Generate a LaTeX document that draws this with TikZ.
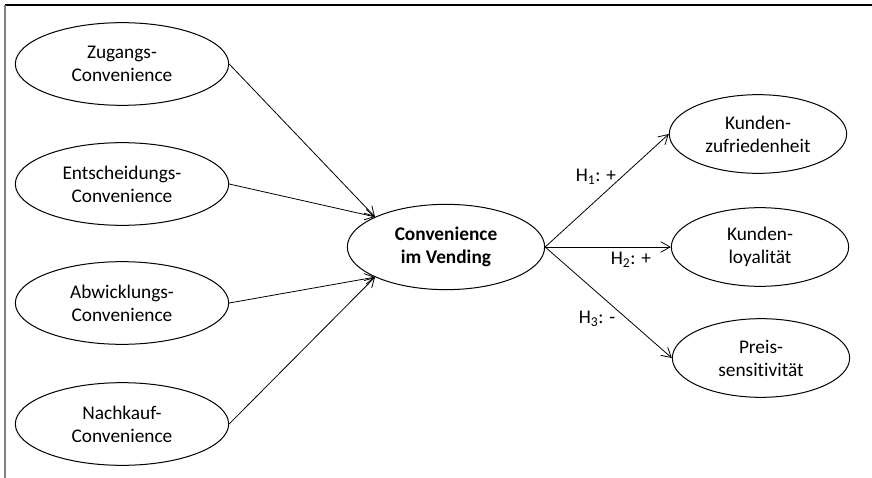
\documentclass[tikz,border=0pt]{standalone}
\usepackage{fontspec}
\setmainfont[Ligatures=NoCommon]{Carlito}
\usetikzlibrary{shapes.geometric,arrows.meta}
\begin{document}
\begin{tikzpicture}[x=0.75pt,y=-0.75pt,
  font=\fontsize{14.5}{17.25}\selectfont,
  konstrukt/.style={ellipse,draw,line width=0.75pt,inner sep=0pt,align=center},
  links/.style={konstrukt,minimum width=160pt,minimum height=62pt},
  mitte/.style={konstrukt,minimum width=148pt,minimum height=64pt,font=\fontsize{14.5}{17.25}\selectfont\bfseries},
  rechts/.style={konstrukt,minimum width=133pt,minimum height=59pt},
  pfeil/.style={-{Straight Barb[length=7pt,width=8pt]},line width=0.6pt}]
  \useasboundingbox (0,0) rectangle (872,478);
  \draw[line width=1.2pt] (5,5) -- (872,5);
  \draw[line width=1.2pt,gray] (5,5) -- (5,478);
  \node[links] (zugang) at (122,64) {Zugangs-\\Convenience};
  \node[links] (entsch) at (122,184) {Entscheidungs-\\Convenience};
  \node[links] (abwick) at (122,303) {Abwicklungs-\\Convenience};
  \node[links] (nachk) at (122,424) {Nachkauf-\\Convenience};
  \node[mitte] (vend) at (446,247) {Convenience\\im Vending};
  \node[rechts] (zufr) at (758,134) {Kunden-\\zufriedenheit};
  \node[rechts] (loyal) at (760,247) {Kunden-\\loyalität};
  \node[rechts] (preis) at (761,358) {Preis-\\sensitivität};
  \draw[pfeil] (zugang.east) -- (vend.157);
  \draw[pfeil] (entsch.east) -- (vend.157);
  \draw[pfeil] (abwick.east) -- (vend.203);
  \draw[pfeil] (nachk.east) -- (vend.203);
  \draw[pfeil] (vend.east) -- (zufr.west);
  \draw[pfeil] (vend.east) -- (loyal.west);
  \draw[pfeil] (vend.east) -- (preis.west);
  \node (h1) at (596,177) {H\textsubscript{1}: +};
  \node (h2) at (631,260) {H\textsubscript{2}: +};
  \node (h3) at (597,319) {H\textsubscript{3}: -};
\end{tikzpicture}
\end{document}
